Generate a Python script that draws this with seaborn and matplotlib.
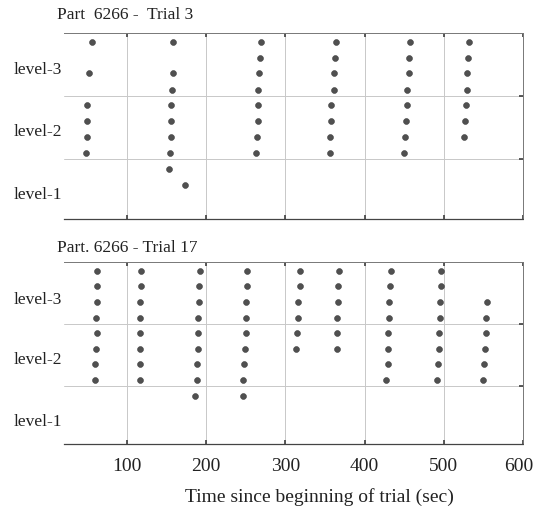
import matplotlib
matplotlib.use("Agg")
import matplotlib.pyplot as plt
import matplotlib.transforms as mtransforms
import pandas as pd
import seaborn as sns

sns.set_theme(style="white")
plt.rcParams['font.family'] = ['Liberation Serif', 'DejaVu Serif']

# Trial 3 - time of each dot (sec) and its level (0-3 scale, top row first)
t3_time = [56, 52, 50, 50, 50, 48,
           158, 158, 157, 156, 156, 156, 154, 153, 173,
           269, 268, 267, 266, 266, 265, 264, 263,
           364, 363, 362, 361, 358, 358, 356, 356,
           457, 456, 456, 454, 453, 452, 451, 450,
           532, 531, 529, 529, 528, 527, 525]
t3_level = [2.86, 2.36, 1.85, 1.60, 1.35, 1.10,
            2.86, 2.36, 2.10, 1.85, 1.60, 1.35, 1.10, 0.84, 0.58,
            2.86, 2.61, 2.36, 2.10, 1.85, 1.60, 1.35, 1.10,
            2.86, 2.61, 2.36, 2.10, 1.85, 1.60, 1.35, 1.10,
            2.86, 2.61, 2.36, 2.10, 1.85, 1.60, 1.35, 1.10,
            2.86, 2.61, 2.36, 2.10, 1.85, 1.60, 1.35]

# Trial 17
t17_time = [62, 62, 62, 61, 62, 61, 60, 60,
            118, 118, 117, 117, 117, 117, 116, 116,
            192, 191, 191, 190, 190, 190, 189, 189, 186,
            252, 251, 250, 250, 250, 249, 248, 247, 247,
            318, 318, 316, 316, 315, 314,
            368, 367, 366, 365, 365, 365,
            433, 432, 431, 431, 430, 429, 429, 427,
            497, 496, 495, 495, 494, 494, 493, 491,
            554, 553, 553, 552, 551, 550]
t17_level = [2.86, 2.61, 2.36, 2.10, 1.85, 1.60, 1.35, 1.10,
             2.86, 2.61, 2.36, 2.10, 1.85, 1.60, 1.35, 1.10,
             2.86, 2.61, 2.36, 2.10, 1.85, 1.60, 1.35, 1.10, 0.84,
             2.86, 2.61, 2.36, 2.10, 1.85, 1.60, 1.35, 1.10, 0.84,
             2.86, 2.61, 2.36, 2.10, 1.85, 1.60,
             2.86, 2.61, 2.36, 2.10, 1.85, 1.60,
             2.86, 2.61, 2.36, 2.10, 1.85, 1.60, 1.35, 1.10,
             2.86, 2.61, 2.36, 2.10, 1.85, 1.60, 1.35, 1.10,
             2.36, 2.10, 1.85, 1.60, 1.35, 1.10]

level_names = ['level-1', 'level-2', 'level-3']
x_ticks = [100, 200, 300, 400, 500, 600]
titles = ['Part  6266 -  Trial 3', 'Part. 6266 - Trial 17']

fig = plt.figure(figsize=(5.34, 5.08), dpi=100)
ax1 = fig.add_axes([0.1191, 0.5689, 0.8603, 0.3655])
ax2 = fig.add_axes([0.1191, 0.1260, 0.8603, 0.3583])

panels = [(ax1, t3_time, t3_level, [0.45, 1.46, 2.45], 0.970),
          (ax2, t17_time, t17_level, [0.46, 1.45, 2.42], 0.512)]

for i, (ax, tt, lv, lab_pos, ty) in enumerate(panels):
    df = pd.DataFrame({'time': tt, 'level': lv})
    sns.scatterplot(data=df, x='time', y='level', ax=ax, color='#505050',
                    s=18, edgecolor='#404040', linewidth=0.4, zorder=3)
    ax.set_xlim(20, 600)
    ax.set_ylim(0.07 if i else 0.04, 3)
    ax.set_xticks(x_ticks)
    ax.set_yticks([1, 2])
    ax.set_yticks(lab_pos, minor=True)
    ax.set_yticklabels(level_names, minor=True)
    ax.tick_params(axis='y', which='minor', length=0, pad=1, labelsize=12.5,
                   labelcolor='#222222')
    ax.tick_params(axis='y', which='major', length=3, direction='in',
                   left=False, right=True, labelleft=False, color='#444444')
    ax.tick_params(axis='x', length=3, direction='in', top=True, bottom=True,
                   color='#444444', labelsize=14, labelcolor='#222222', pad=10)
    if i == 0:
        ax.tick_params(axis='x', labelbottom=False)
    ax.grid(True, which='major', color='#c8c8c8', linewidth=0.7)
    ax.set_xlabel('')
    ax.set_ylabel('')
    ax.spines['left'].set_visible(False)
    for side in ['top', 'right']:
        ax.spines[side].set_color('#777777')
        ax.spines[side].set_linewidth(0.7)
    ax.spines['bottom'].set_color('#444444')
    ax.spines['bottom'].set_linewidth(0.9)
    ax.spines['bottom'].set_linestyle((0, (3, 1)))
    fig.text(57 / 534, ty, titles[i], fontsize=12.5, color='#222222',
             ha='left', va='center')

# keep the last tick label inside the figure
last = ax2.xaxis.get_major_ticks()[-1].label1
last.set_transform(last.get_transform() +
                   mtransforms.ScaledTranslation(-4 / 100, 0, fig.dpi_scale_trans))

fig.text(319 / 534, 1 - 497 / 508, 'Time since beginning of trial (sec)',
         fontsize=14, color='#222222', ha='center', va='center')

fig.savefig('out.png', dpi=100)
